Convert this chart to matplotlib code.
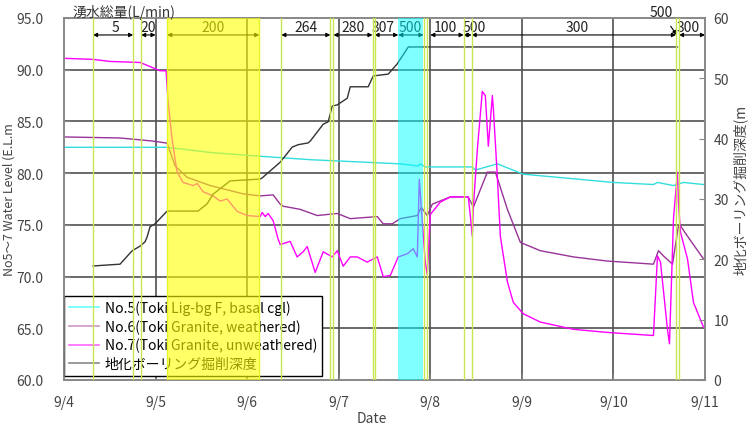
import matplotlib
matplotlib.use("Agg")
import matplotlib.pyplot as plt
from matplotlib.lines import Line2D

plt.rcParams['font.family'] = ['Noto Sans CJK JP', 'DejaVu Sans']

# ---- data (x in days from 9/4 00:00) ----
day_labels = ["9/4", "9/5", "9/6", "9/7", "9/8", "9/9", "9/10", "9/11"]

no5_x = [0, 1.126, 1.596, 2.033, 2.689, 3.672, 3.869, 3.891, 3.945, 4.459, 4.492, 4.732,
         5.016, 6.0, 6.437, 6.481, 6.656, 6.765, 6.984]
no5_y = [82.5, 82.5, 82.0, 81.7, 81.3, 80.9, 80.7, 80.9, 80.6, 80.6, 80.3, 80.9,
         79.9, 79.1, 78.9, 79.1, 78.8, 79.1, 78.9]

no6_x = [0, 0.612, 0.973, 1.126, 1.213, 1.344, 1.596, 1.956, 2.142, 2.284, 2.361, 2.393,
         2.579, 2.765, 2.984, 3.126, 3.421, 3.486, 3.585, 3.672, 3.858, 3.902, 3.967,
         4.022, 4.219, 4.415, 4.470, 4.623, 4.711, 4.842, 4.984, 5.202, 5.563, 5.934,
         6.437, 6.492, 6.546, 6.645, 6.710, 6.732, 6.809, 6.984]
no6_y = [83.5, 83.4, 83.1, 82.9, 80.7, 79.6, 78.8, 78.0, 77.8, 77.9, 77.0, 76.8,
         76.5, 75.9, 76.1, 75.6, 75.8, 75.1, 75.1, 75.6, 75.9, 76.7, 75.9,
         77.0, 77.7, 77.7, 76.7, 80.1, 80.1, 76.5, 73.3, 72.5, 71.9, 71.5,
         71.2, 72.5, 72.0, 71.2, 74.9, 74.9, 73.9, 71.7]

no7_x = [0, 0.317, 0.503, 0.831, 0.940, 1.049, 1.115, 1.126, 1.137, 1.180, 1.235, 1.301,
         1.410, 1.454, 1.519, 1.628, 1.705, 1.781, 1.891, 2.0, 2.142, 2.164, 2.197, 2.230,
         2.284, 2.339, 2.361, 2.470, 2.546, 2.612, 2.656, 2.743, 2.831, 2.929, 2.984,
         3.049, 3.126, 3.202, 3.311, 3.421, 3.486, 3.563, 3.650, 3.749, 3.814, 3.858,
         3.880, 3.913, 3.945, 3.967, 4.0, 4.11, 4.219, 4.415, 4.437, 4.459, 4.470, 4.514,
         4.568, 4.601, 4.634, 4.678, 4.689, 4.732, 4.765, 4.842, 4.907, 5.016, 5.202,
         5.563, 5.934, 6.437, 6.481, 6.514, 6.590, 6.612, 6.656, 6.699, 6.710, 6.732,
         6.809, 6.874, 6.984]
no7_y = [91.1, 91.0, 90.8, 90.7, 90.3, 89.9, 89.9, 88.3, 86.9, 83.3, 80.1, 79.1,
         78.8, 79.0, 78.2, 77.8, 77.3, 77.5, 76.3, 75.9, 75.8, 76.2, 75.8, 76.1,
         75.4, 73.6, 73.1, 73.4, 71.9, 72.4, 72.9, 70.4, 72.4, 71.9, 72.5,
         71.0, 71.9, 71.9, 71.4, 71.9, 70.0, 70.1, 71.9, 72.2, 72.7, 71.9,
         79.4, 75.3, 71.4, 70.2, 76.0, 77.2, 77.7, 77.7, 75.9, 73.9, 76.7, 82.3,
         87.9, 87.5, 82.6, 87.5, 86.2, 79.7, 73.9, 69.5, 67.5, 66.4, 65.6,
         64.9, 64.6, 64.3, 72.0, 71.4, 64.9, 63.5, 75.6, 80.1, 77.2, 74.3,
         71.7, 67.5, 65.1]

depth_x = [0.317, 0.612, 0.743, 0.831, 0.885, 0.907, 0.940, 0.995, 1.126, 1.464, 1.563,
           1.628, 1.814, 2.142, 2.164, 2.361, 2.492, 2.557, 2.667, 2.689, 2.831, 2.885,
           2.929, 2.984, 3.093, 3.126, 3.322, 3.377, 3.541, 3.639, 3.760, 6.699]
depth_y = [18.9, 19.2, 21.4, 22.2, 22.9, 23.7, 25.4, 25.9, 28.0, 28.0, 29.2,
           30.8, 33.0, 33.3, 33.5, 36.1, 38.6, 39.0, 39.3, 39.6, 42.4, 42.8,
           45.4, 45.6, 46.7, 48.6, 48.6, 50.4, 50.7, 52.4, 55.2, 55.2]

event_lines = [0.317, 0.755, 0.842, 1.127, 2.133, 2.373, 2.909, 2.942, 3.369, 3.391,
               3.926, 3.959, 4.364, 4.451, 6.683, 6.716]
yellow_band = (1.127, 2.138)
cyan_band = (3.65, 3.915)

flow_start = [0.317, 0.842, 1.127, 2.373, 2.942, 3.391, 3.65, 4.0, 4.364, 4.451, 6.716]
flow_end = [0.755, 1.0, 2.133, 2.909, 3.369, 3.65, 3.926, 4.364, 4.451, 6.683, 7.0]
flow_labels = ["5", "20", "200", "264", "280", "307", "500", "100", "500", "300", "300"]
flow_label_x = [0.56, 0.92, 1.63, 2.64, 3.16, 3.48, 3.78, 4.17, 4.48, 5.6, 6.82]

# ---- figure ----
fig = plt.figure(figsize=(7.48, 4.27), dpi=100)
ax = fig.add_axes([64/748, 1-381/427, 641/748, 362/427])
ax2 = ax.twinx()

grid_c = '#505050'
for v in range(65, 95, 5):
    ax.axhline(v, color=grid_c, lw=1.2, zorder=1)
for d in range(1, 7):
    ax.axvline(d, color=grid_c, lw=1.2, zorder=1)

ax.plot(no5_x, no5_y, color='#33DDDD', lw=1.0, zorder=3)
ax.plot(no6_x, no6_y, color='#993399', lw=1.0, zorder=3)
ax.plot(no7_x, no7_y, color='#FF00FF', lw=1.0, zorder=4)

ax.set_xlim(0, 7)
ax.set_ylim(60, 95)
ax.set_yticks(range(60, 100, 5))
ax.set_yticklabels([f"{v:.1f}" for v in range(60, 100, 5)])
ax.set_xticks(range(8))
ax.set_xticklabels(day_labels)

# flow arrows
arrow_y = 93.36
for s, e in zip(flow_start, flow_end):
    ax.annotate('', xy=(e, arrow_y), xytext=(s, arrow_y),
                arrowprops=dict(arrowstyle='<|-|>', color='black', lw=0.8,
                                mutation_scale=6, shrinkA=0, shrinkB=0),
                zorder=5, annotation_clip=False)
for lx, lab in zip(flow_label_x, flow_labels):
    ax.text(lx, arrow_y + 0.1, lab, ha='center', va='bottom', fontsize=10,
            color='#222222', zorder=5)
ax.annotate('500', xy=(6.69, arrow_y), xytext=(6.52, 95.6),
            ha='center', va='center', fontsize=10, color='#222222',
            arrowprops=dict(arrowstyle='-|>', color='black', lw=0.8,
                            mutation_scale=6, shrinkA=4, shrinkB=0),
            annotation_clip=False)

# legend
handles = [Line2D([], [], color='#66FFFF', lw=1.2),
           Line2D([], [], color='#CC99CC', lw=1.2),
           Line2D([], [], color='#FF66FF', lw=1.2),
           Line2D([], [], color='#888888', lw=1.2)]
labels = ["No.5(Toki Lig-bg F, basal cgl)", "No.6(Toki Granite, weathered)",
          "No.7(Toki Granite, unweathered)", "地化ボーリング掘削深度"]
leg = ax.legend(handles, labels, loc='lower left', bbox_to_anchor=(0.0, 0.012),
                fontsize=10, frameon=True, fancybox=False, edgecolor='black',
                framealpha=1, borderpad=0.35, labelspacing=0.3, handlelength=2.2,
                handletextpad=0.4, borderaxespad=0)
leg.get_frame().set_linewidth(1.0)
leg.set_zorder(6)

# right axis
ax2.plot(depth_x, depth_y, color='#333333', lw=1.0, zorder=3)
for x in event_lines:
    ax2.axvline(x, color='#C8E650', lw=1.0, zorder=4)
ax2.axvspan(*yellow_band, color='#FFFF00', alpha=0.6, lw=0, zorder=8)
ax2.axvspan(*cyan_band, color='#00FFFF', alpha=0.5, lw=0, zorder=8)
ax2.set_ylim(0, 60)
ax2.set_yticks(range(0, 70, 10))
ax2.set_xlim(0, 7)

for a in (ax, ax2):
    for sp in a.spines.values():
        sp.set_color('#888888')
        sp.set_linewidth(1.2)
ax.tick_params(axis='y', direction='in', length=4, pad=15, labelsize=10,
               labelcolor='#444444', color='#888888')
ax.tick_params(axis='x', direction='in', length=4, pad=11, labelsize=10,
               labelcolor='#444444', color='#888888')
ax2.tick_params(axis='y', direction='in', length=4, pad=6, labelsize=10,
                labelcolor='#444444', color='#888888')

fig.text(72/748, 1-13/427, "湧水総量(L/min)", ha='left', va='center', fontsize=10,
         color='#333333')
fig.text(9/748, 1-200/427, "No5～7 Water Level (E.L.m", rotation=90, ha='center',
         va='center', fontsize=9, color='#444444')
fig.text(740/748, 1-190/427, "地化ボーリング掘削深度(m", rotation=90, ha='center',
         va='center', fontsize=10, color='#444444')
fig.text(372/748, 1-419/427, "Date", ha='center', va='center', fontsize=10,
         color='#444444')

fig.savefig('out.png', dpi=100)
